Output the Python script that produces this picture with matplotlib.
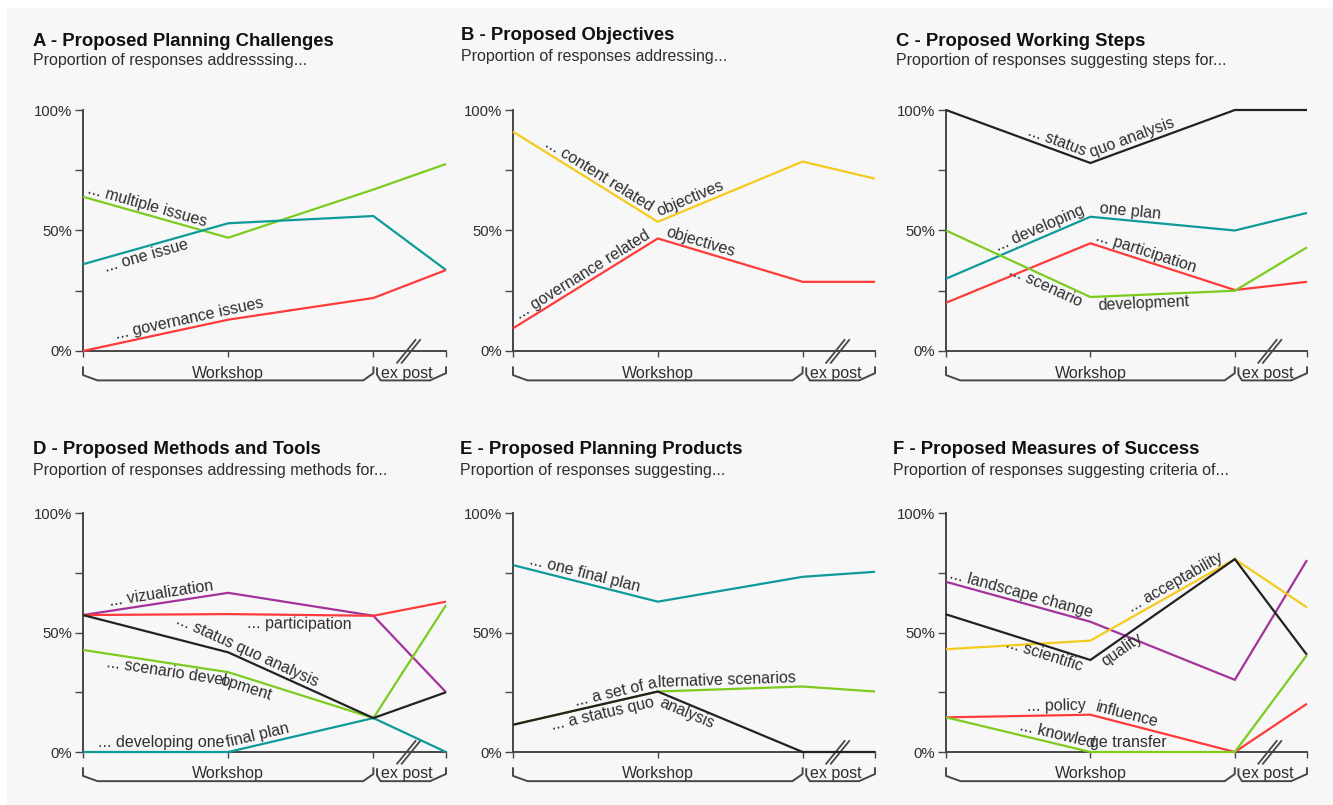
import numpy as np
import matplotlib
matplotlib.use('Agg')
import matplotlib.pyplot as plt
from matplotlib.transforms import offset_copy
from matplotlib.patches import Rectangle

plt.rcParams['font.family'] = ['Liberation Sans', 'DejaVu Sans']

W, H = 1333, 805
x_pos = [0, 1, 2, 2.5]
y_ticks = [0, 25, 50, 75, 100]
y_ticklabels = ['0%', '', '50%', '', '100%']
stages = ['Workshop', 'ex post']

# A - planning challenges
a_multiple = [64, 47, 67, 77.6]
a_one = [36, 53, 56, 33.6]
a_governance = [0, 13, 22, 33.6]
# B - objectives
b_content = [91, 53.6, 78.6, 71.5]
b_governance = [9.4, 46.7, 28.7, 28.7]
# C - working steps
c_status = [100, 78, 100, 100]
c_plan = [30, 55.7, 50, 57.3]
c_participation = [20, 44.7, 25.3, 28.7]
c_scenario = [50, 22.4, 25, 43]
# D - methods and tools
d_viz = [57.3, 66.6, 57, 25]
d_participation = [57.3, 57.7, 57, 62.9]
d_status = [57.3, 41.7, 14.2, 25]
d_scenario = [42.7, 33.4, 14.2, 61.5]
d_plan = [0, 0, 14.2, 0]
# E - planning products
e_plan = [78.2, 62.9, 73.3, 75.4]
e_scenarios = [11.4, 25.3, 27.4, 25.3]
e_status = [11.4, 25.3, 0, 0]
# F - measures of success
f_landscape = [71.2, 54.5, 30.2, 80.3]
f_scientific = [57.6, 38.5, 80.7, 40.6]
f_accept = [43, 46.6, 80.7, 60.5]
f_policy = [14.5, 15.6, 0, 20.2]
f_knowledge = [14.5, 0, 0, 40.6]

titles = ['A - Proposed Planning Challenges', 'B - Proposed Objectives',
          'C - Proposed Working Steps', 'D - Proposed Methods and Tools',
          'E - Proposed Planning Products', 'F - Proposed Measures of Success']
subtitles = ['Proportion of responses addresssing...',
             'Proportion of responses addressing...',
             'Proportion of responses suggesting steps for...',
             'Proportion of responses addressing methods for...',
             'Proportion of responses suggesting...',
             'Proportion of responses suggesting criteria of...']

green = '#7ccb1e'
teal = '#0f9a9a'
red = '#ff3a3a'
yellow = '#f4cb1c'
purple = '#a3339b'
black = '#222222'
axc = '#474747'
txtc = '#2e2e2e'

series = [
    [(a_multiple, green), (a_one, teal), (a_governance, red)],
    [(b_content, yellow), (b_governance, red)],
    [(c_status, black), (c_plan, teal), (c_participation, red), (c_scenario, green)],
    [(d_viz, purple), (d_participation, red), (d_scenario, green), (d_plan, teal), (d_status, black)],
    [(e_plan, teal), (e_scenarios, green), (e_status, black)],
    [(f_landscape, purple), (f_accept, yellow), (f_scientific, black), (f_policy, red), (f_knowledge, green)],
]

# (series index, text, segment, position on segment, side +1 above / -1 below)
labels = [
    [(0, '... multiple issues', 0, 0.02, 1), (1, '... one issue', 0, 0.13, -1),
     (2, '... governance issues', 0, 0.24, 1)],
    [(0, '... content related', 0, 0.2, 1), (0, 'objectives', 1, 0.02, 1),
     (1, '... governance related', 0, 0.06, 1), (1, 'objectives', 1, 0.04, 1)],
    [(0, '... status', 0, 0.55, 1), (0, 'quo analysis', 1, 0.02, 1),
     (1, '... developing', 0, 0.37, 1), (1, 'one plan', 1, 0.06, 1),
     (2, '... participation', 1, 0.02, 1),
     (3, '... scenario', 0, 0.47, -1), (3, 'development', 1, 0.05, -1)],
    [(0, '... vizualization', 0, 0.19, 1), (1, '... participation', 1, 0.13, -1),
     (4, '... status quo analysis', 1, -0.38, 1),
     (2, '... scenario devel', 0, 0.17, -1), (2, 'opment', 1, -0.03, -1),
     (3, '... developing one', 0, 0.1, 1), (3, 'final plan', 1, 0.0, 1)],
    [(0, '... one final plan', 0, 0.1, 1), (1, '... a set of a', 0, 0.44, 1),
     (1, 'lternative scenarios', 1, 0.0, 1),
     (2, '... a status quo', 0, 0.25, -1), (2, 'analysis', 1, 0.04, -1)],
    [(0, '... landscape change', 0, 0.01, 1), (1, '... acceptability', 1, 0.3, 1),
     (2, '... scientific', 0, 0.44, -1), (2, 'quality', 1, 0.05, -1),
     (3, '... policy', 0, 0.56, 1), (3, 'influence', 1, 0.02, 1),
     (4, '... knowled', 0, 0.5, 1), (4, 'ge transfer', 1, 0.0, 1)],
]

# pixel layout: axes (left, top, right, bottom), title and subtitle positions
ax_px = [(83, 110, 446, 351), (513, 110, 875, 351), (946, 110, 1307, 351),
         (83, 513, 446, 752), (513, 513, 875, 752), (946, 513, 1307, 752)]
title_px = [(33, 41), (461, 36), (896, 41), (33, 450), (460, 450), (893, 450)]
sub_px = [(33, 61), (461, 57), (896, 61), (33, 470), (460, 470), (893, 470)]

fig = plt.figure(figsize=(W / 100, H / 100), dpi=100)
fig.patch.set_facecolor('white')
fig.patches.append(Rectangle((7 / W, 0), 1, 1 - 8 / H, transform=fig.transFigure,
                             facecolor='#f7f7f7', edgecolor='none', zorder=-10))


def add_label(ax, xs, ys, text, seg, t, side):
    x0, x1 = xs[seg], xs[seg + 1]
    y0, y1 = ys[seg], ys[seg + 1]
    px = x0 + t * (x1 - x0)
    py = y0 + t * (y1 - y0)
    p0 = ax.transData.transform((x0, y0))
    p1 = ax.transData.transform((x1, y1))
    ang = np.degrees(np.arctan2(p1[1] - p0[1], p1[0] - p0[0]))
    off = 1.2 * side
    dx = -np.sin(np.radians(ang)) * off
    dy = np.cos(np.radians(ang)) * off
    tr = offset_copy(ax.transData, fig=fig, x=dx, y=dy, units='points')
    ax.text(px, py, text, transform=tr, rotation=ang, rotation_mode='anchor',
            ha='left', va='bottom' if side > 0 else 'top', fontsize=11.5, color=txtc)


for i in range(6):
    l, t, r, b = ax_px[i]
    ax = fig.add_axes([l / W, 1 - b / H, (r - l) / W, (b - t) / H])
    ax.set_xlim(0, 2.5)
    ax.set_ylim(0, 100)
    ax.patch.set_visible(False)
    for s in ['top', 'right']:
        ax.spines[s].set_visible(False)
    for s in ['left', 'bottom']:
        ax.spines[s].set_color(axc)
        ax.spines[s].set_linewidth(1.4)
    ax.set_yticks(y_ticks)
    ax.set_yticklabels(y_ticklabels)
    ax.set_xticks(x_pos)
    ax.set_xticklabels([])
    ax.tick_params(axis='y', length=6, width=1.0, color=axc, pad=2,
                   labelsize=10.7, labelcolor=txtc)
    ax.tick_params(axis='x', length=4.5, width=1.0, color=axc)

    for ys, c in series[i]:
        ax.plot(x_pos, ys, color=c, lw=1.6, clip_on=False, solid_capstyle='butt',
                solid_joinstyle='miter', zorder=3)

    for k, text, seg, tt, side in labels[i]:
        add_label(ax, x_pos, series[i][k][0], text, seg, tt, side)

    # axis break
    ax.plot([2.163, 2.29], [-4.9, 4.6], color=axc, lw=1.3, clip_on=False)
    ax.plot([2.195, 2.322], [-4.9, 4.6], color=axc, lw=1.3, clip_on=False)

    # brackets under the axis
    ax.plot([0, 0, 0.1, 1.93, 2.0, 2.0], [-6.8, -10, -12.2, -12.2, -9.2, -6.8],
            color=axc, lw=1.4, clip_on=False)
    ax.plot([2.025, 2.025, 2.05, 2.39, 2.5, 2.5], [-7.2, -9.8, -12.2, -12.2, -9.2, -6.8],
            color=axc, lw=1.4, clip_on=False)
    ax.text(1.0, -9.2, stages[0], ha='center', va='center', fontsize=11.5, color=txtc)
    ax.text(2.23, -9.2, stages[1], ha='center', va='center', fontsize=11.5, color=txtc)

    fig.text(title_px[i][0] / W, 1 - title_px[i][1] / H, titles[i], ha='left', va='center',
             fontsize=13.3, fontweight='bold', color='#111111')
    fig.text(sub_px[i][0] / W, 1 - sub_px[i][1] / H, subtitles[i], ha='left', va='center',
             fontsize=11.5, color=txtc)

fig.savefig('out.png', dpi=100, facecolor=fig.get_facecolor())
